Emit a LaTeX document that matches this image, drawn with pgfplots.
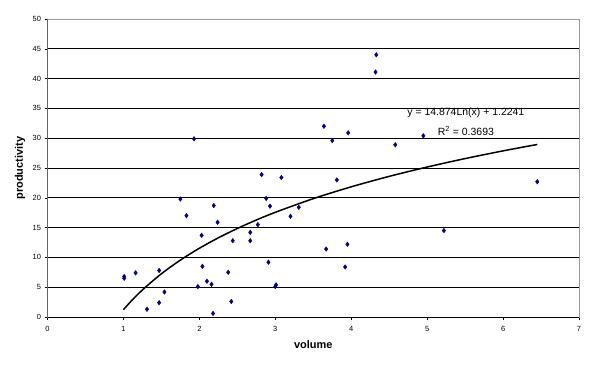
\documentclass[border=0pt]{standalone}
\usepackage{fontspec}
\setmainfont{Liberation Sans}
\usepackage{pgfplots}
\pgfplotsset{compat=1.18}
\definecolor{navy}{RGB}{0,0,128}
\begin{document}
\begin{tikzpicture}[x=1bp,y=1bp]
\useasboundingbox (0,0) rectangle (595,367);
\begin{axis}[
  at={(47.5bp,50bp)}, anchor=south west,
  scale only axis, width=531.5bp, height=298bp,
  xmin=0,xmax=7,ymin=0,ymax=50,
  xtick={0,...,7}, ytick={0,5,...,50},
  xtick pos=bottom, ytick pos=left,
  ymajorgrids, major grid style={black, line width=0.8pt},
  axis line style={draw=gray!80, line width=0.8pt},
  tick align=outside, major tick length=3bp,
  tick style={black, line width=0.6pt},
  ticklabel style={font=\fontsize{7.5}{8}\selectfont},
  xticklabel style={yshift=-3bp},
  /pgf/number format/assume math mode=true,
  xlabel={volume},
  label style={font=\fontsize{11}{12}\selectfont\bfseries},
  xlabel style={at={(rel axis cs:0.5,0)}, yshift=-28bp, anchor=center},
]
\addplot[only marks, mark=diamond*, mark size=2.3bp, color=navy] coordinates {
(1.01,6.5) (1.01,6.8) (1.16,7.4) (1.31,1.3) (1.47,7.8) (1.47,2.4) (1.54,4.2)
(1.75,19.8) (1.83,17.0) (1.93,29.9) (1.98,5.1) (2.03,13.7) (2.04,8.5) (2.10,6.0)
(2.16,5.5) (2.18,0.6) (2.19,18.7) (2.24,15.9) (2.38,7.5) (2.42,2.6) (2.44,12.8)
(2.67,14.2) (2.67,12.8) (2.77,15.5) (2.82,23.9) (2.88,19.9) (2.91,9.2) (2.93,18.6)
(3.00,5.1) (3.01,5.4) (3.08,23.4) (3.20,16.9) (3.31,18.4) (3.64,32.0) (3.67,11.4)
(3.75,29.6) (3.81,23.0) (3.92,8.4) (3.95,12.2) (3.96,30.9) (4.32,41.1) (4.33,44.0)
(4.58,28.9) (4.95,30.4) (5.22,14.5) (6.45,22.7)
};
\addplot[black, line width=1.5bp, smooth, no marks] coordinates {
(1,1.224) (1.1,2.642) (1.25,4.543) (1.5,7.255) (1.75,9.548) (2,11.534) (2.25,13.286)
(2.5,14.853) (2.75,16.271) (3,17.565) (3.5,19.858) (4,21.844) (4.5,23.596)
(5,25.163) (5.5,26.581) (6,27.875) (6.45,28.950)
};
\draw[black, line width=0.8pt] (rel axis cs:0,1) -- (rel axis cs:0,0) -- (rel axis cs:1,0);
\node[font=\fontsize{10.5}{12}\selectfont] at (axis cs:5.51,34.2) {y = 14.874Ln(x) + 1.2241};
\node[font=\fontsize{10.5}{12}\selectfont] at (axis cs:5.51,31.2) {R\textsuperscript{2} = 0.3693};
\end{axis}
\node[rotate=90, font=\fontsize{11}{12}\selectfont\bfseries] at (20,199) {productivity};
\end{tikzpicture}
\end{document}
